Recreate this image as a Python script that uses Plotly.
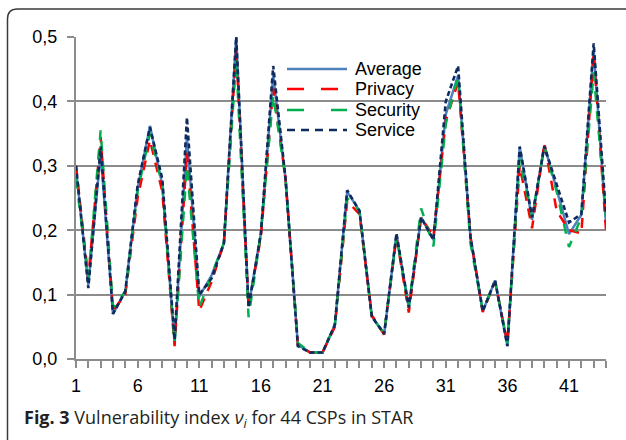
import plotly.graph_objects as go

# CSP index 1..44
csp = list(range(1, 45))

average = [0.295, 0.115, 0.32, 0.07, 0.105, 0.265, 0.362, 0.27, 0.025, 0.345,
           0.097, 0.13, 0.18, 0.5, 0.082, 0.195, 0.44, 0.28, 0.022, 0.01,
           0.01, 0.053, 0.26, 0.23, 0.066, 0.039, 0.193, 0.08, 0.22, 0.185,
           0.38, 0.44, 0.19, 0.074, 0.122, 0.02, 0.329, 0.216, 0.332, 0.265,
           0.194, 0.224, 0.48, 0.21]
privacy = [0.30, 0.125, 0.345, 0.075, 0.10, 0.25, 0.34, 0.26, 0.02, 0.32,
           0.075, 0.12, 0.18, 0.48, 0.08, 0.19, 0.42, 0.28, 0.022, 0.01,
           0.01, 0.05, 0.245, 0.225, 0.068, 0.038, 0.19, 0.072, 0.22, 0.19,
           0.37, 0.43, 0.19, 0.073, 0.12, 0.025, 0.30, 0.203, 0.335, 0.23,
           0.20, 0.195, 0.475, 0.20]
security = [0.28, 0.125, 0.355, 0.08, 0.105, 0.26, 0.35, 0.27, 0.025, 0.30,
            0.08, 0.13, 0.18, 0.465, 0.065, 0.195, 0.41, 0.28, 0.025, 0.01,
            0.01, 0.052, 0.25, 0.23, 0.065, 0.04, 0.19, 0.08, 0.234, 0.175,
            0.365, 0.44, 0.18, 0.075, 0.12, 0.025, 0.31, 0.22, 0.33, 0.26,
            0.174, 0.22, 0.445, 0.22]
service = [0.30, 0.11, 0.33, 0.07, 0.105, 0.27, 0.36, 0.28, 0.03, 0.375,
           0.10, 0.125, 0.18, 0.50, 0.08, 0.195, 0.455, 0.28, 0.02, 0.01,
           0.01, 0.053, 0.262, 0.23, 0.066, 0.039, 0.195, 0.08, 0.22, 0.185,
           0.40, 0.455, 0.19, 0.074, 0.122, 0.02, 0.33, 0.22, 0.33, 0.27,
           0.212, 0.225, 0.49, 0.225]

series_names = ["Average", "Privacy", "Security", "Service"]
x_tick_values = [1, 6, 11, 16, 21, 26, 31, 36, 41]
y_tick_values = [0.0, 0.1, 0.2, 0.3, 0.4, 0.5]

W, H = 626, 440
ML, MR, MT, MB = 76, 20, 37, 81
PW, PH = W - ML - MR, H - MT - MB


def px(xp):
    return (xp - ML) / PW


def py(yp):
    return (H - MB - yp) / PH


styles = [
    dict(color="#4f81bd", width=2.5, dash="solid"),
    dict(color="#ff0000", width=2.5, dash="10px,8px"),
    dict(color="#00b050", width=2.5, dash="10px,10px"),
    dict(color="#0f2a5c", width=2.6, dash="5px,3px"),
]
legend_dash = ["solid", "17px,17px", "17px,27px", "8px,6px"]

fig = go.Figure()
for name, values, st in zip(series_names, [average, privacy, security, service], styles):
    fig.add_trace(go.Scatter(x=csp, y=values, mode="lines", name=name,
                             line=st, showlegend=False))

grid_col = "#8c8c8c"
tick_font = dict(family="Arial", size=18, color="#000")
fig.update_xaxes(range=[1, 44], tickvals=x_tick_values,
                 ticks="outside", ticklen=7, tickwidth=1.5, tickcolor=grid_col,
                 minor=dict(ticks="outside", tick0=1, dtick=1, ticklen=7,
                            tickwidth=1.5, tickcolor=grid_col, showgrid=False),
                 showline=True, linecolor=grid_col, linewidth=2,
                 showgrid=False, zeroline=False, ticklabelstandoff=2,
                 tickfont=tick_font)
fig.update_yaxes(range=[0, 0.5], tickvals=y_tick_values, tickformat=".1f",
                 ticks="outside", ticklen=7, tickwidth=1.5, tickcolor=grid_col,
                 showline=True, linecolor=grid_col, linewidth=2,
                 showgrid=True, gridcolor=grid_col, gridwidth=2, zeroline=False,
                 ticklabelstandoff=6, tickfont=tick_font)

shapes = []
# rounded frame around figure and caption
x0, y0, r = px(7.5), py(9), 10
rx, ry = r / PW, r / PH
shapes.append(dict(type="path", xref="paper", yref="paper",
                   path=(f"M {x0} {py(460)} L {x0} {y0 - ry} "
                         f"Q {x0} {y0} {x0 + rx} {y0} L {px(640)} {y0}"),
                   line=dict(color="#3a3a3a", width=1.5)))

# legend entries
annotations = []
rows = [69, 89, 110, 130]
for name, st, dash, yr in zip(series_names, styles, legend_dash, rows):
    shapes.append(dict(type="line", xref="paper", yref="paper",
                       x0=px(287), x1=px(347), y0=py(yr), y1=py(yr),
                       line=dict(color=st["color"], width=st["width"], dash=dash)))
    annotations.append(dict(xref="paper", yref="paper", x=px(353), y=py(yr),
                            xanchor="left", yanchor="middle", showarrow=False,
                            text=name,
                            font=dict(family="Arial", size=18, color="#000")))

annotations.append(dict(xref="paper", yref="paper", x=px(22), y=py(419),
                        xanchor="left", yanchor="middle", showarrow=False,
                        text="<b>Fig. 3</b> Vulnerability index <i>ν<sub>i</sub></i> for 44 CSPs in STAR",
                        font=dict(family="Open Sans", size=18, color="#231f20")))

fig.update_layout(width=W, height=H, margin=dict(l=ML, r=MR, t=MT, b=MB),
                  paper_bgcolor="white", plot_bgcolor="white",
                  separators=", ", shapes=shapes, annotations=annotations)

fig.write_html("out.html")
